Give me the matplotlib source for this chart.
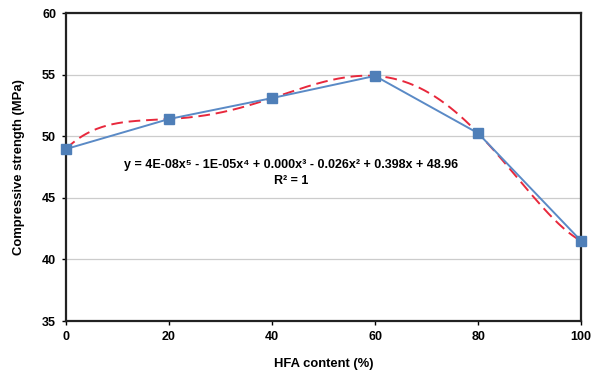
import numpy as np
import matplotlib
matplotlib.use("Agg")
import matplotlib.pyplot as plt

plt.rcParams['font.family'] = ['Liberation Sans', 'DejaVu Sans']
plt.rcParams['font.weight'] = 'bold'

hfa = [0, 20, 40, 60, 80, 100]
strength = [48.96, 51.4, 53.1, 54.9, 50.25, 41.5]
x_ticks = [0, 20, 40, 60, 80, 100]
y_ticks = [35, 40, 45, 50, 55, 60]

# 5th order polynomial trendline (as in Excel)
coef = np.polyfit(hfa, strength, 5)
xs = np.linspace(0, 100, 300)
ys = np.polyval(coef, xs)

fig = plt.figure(figsize=(5.93, 3.75), dpi=100)
ax = fig.add_axes([0.111, 0.144, 0.869, 0.821])

ax.grid(axis='y', color='#cccccc', linewidth=0.9)
ax.set_axisbelow(True)

ax.plot(xs, ys, color='#e8283c', linestyle=(0, (6, 3)), linewidth=1.4, zorder=3)
ax.plot(hfa, strength, color='#5a8ac6', linewidth=1.4, marker='s', markersize=7,
        markerfacecolor='#4f7fb8', markeredgecolor='#4f7fb8', zorder=4, clip_on=False)

ax.set_xlim(0, 100)
ax.set_ylim(35, 60)
ax.set_xticks(x_ticks)
ax.set_yticks(y_ticks)
ax.tick_params(labelsize=9, length=3, width=1, pad=4)
for s in ax.spines.values():
    s.set_linewidth(1.6)
    s.set_color('#222222')

ax.set_xlabel('HFA content (%)', fontsize=9.4, fontweight='bold', labelpad=11)
ax.set_ylabel('Compressive strength (MPa)', fontsize=9.4, fontweight='bold', labelpad=12)

ax.text(43.8, 47.66, 'y = 4E-08x⁵ - 1E-05x⁴ + 0.000x³ - 0.026x² + 0.398x + 48.96',
        ha='center', va='center', fontsize=9, fontweight='bold')
ax.text(43.8, 46.4, 'R² = 1', ha='center', va='center', fontsize=9, fontweight='bold')

fig.savefig('out.png', dpi=100)
